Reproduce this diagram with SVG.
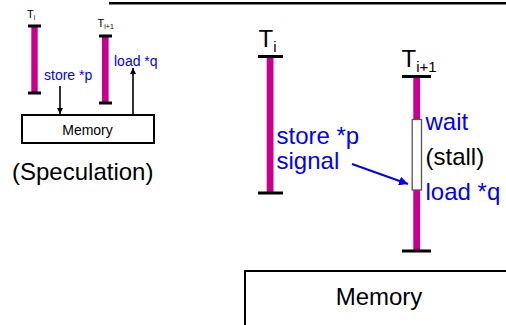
<svg xmlns="http://www.w3.org/2000/svg" width="506" height="325" viewBox="0 0 506 325">
<style>
text{font-family:"Liberation Sans",Arial,sans-serif;}
.bar{fill:#c8008f;}
.cap{fill:#000;}
.blue{fill:#0000ff;}
.blk{fill:#000;}
.box{fill:#fff;stroke:#000;stroke-width:2;}
.conn{stroke:#000;stroke-width:1.6;fill:none;}
</style>
<defs>
<marker id="ah" viewBox="0 0 10 10" refX="10" refY="5" markerWidth="4" markerHeight="4" orient="auto"><path d="M0,0 L10,5 L0,10 z" fill="#000"/></marker>
<marker id="ahb" viewBox="0 0 10 10" refX="10" refY="5" markerWidth="4.5" markerHeight="4.5" orient="auto"><path d="M0,0 L10,5 L0,10 z" fill="#0000ff"/></marker>
</defs>
<rect x="109" y="2" width="397" height="2.5" fill="#000"/>

<g id="small-ti">
<text x="27" y="18" font-size="11" class="blk">T<tspan font-size="7" dy="2">i</tspan></text>
<rect class="bar" x="31.3" y="26" width="6.4" height="67"/>
<rect class="cap" x="28" y="24.5" width="13" height="3"/>
<rect class="cap" x="28" y="91.5" width="13" height="3"/>
</g>
<g id="small-ti1">
<text x="97.5" y="26.5" font-size="11" class="blk">T<tspan font-size="7" dy="2.5">i+1</tspan></text>
<rect class="bar" x="102" y="36" width="6.6" height="67"/>
<rect class="cap" x="99" y="34.5" width="13" height="3"/>
<rect class="cap" x="99" y="101.5" width="13" height="3"/>
</g>
<g id="small-labels">
<text x="44" y="80" font-size="14" class="blue">store *p</text>
<text x="114" y="66" font-size="14" class="blue">load *q</text>
</g>
<g id="small-memory">
<rect class="box" x="22" y="115" width="132" height="28"/>
<text x="87.5" y="135" font-size="14" text-anchor="middle" class="blk">Memory</text>
</g>
<text id="speculation" x="12" y="180" font-size="24" class="blk">(Speculation)</text>

<g id="big-ti">
<text x="258.5" y="47" font-size="24" class="blk">T<tspan font-size="15" dy="4.5">i</tspan></text>
<rect class="bar" x="266.7" y="56" width="6.8" height="137"/>
<rect class="cap" x="258" y="55" width="25" height="3"/>
<rect class="cap" x="258" y="191.5" width="25" height="3"/>
</g>
<g id="big-ti1">
<text x="401.5" y="66.5" font-size="24" class="blk">T<tspan font-size="15" dy="5">i+1</tspan></text>
<rect class="bar" x="413.3" y="76" width="6.8" height="175"/>
<rect class="cap" x="402" y="75" width="29" height="3"/>
<rect class="cap" x="402" y="249.5" width="29" height="3"/>
<rect x="412.2" y="119.5" width="9.3" height="70.5" fill="#fff" stroke="#555" stroke-width="1.3"/>
</g>
<g id="big-labels">
<text x="276.5" y="143.5" font-size="24" class="blue">store *p</text>
<text x="276.5" y="168.5" font-size="24" class="blue">signal</text>
<text x="425.5" y="130" font-size="24" class="blue">wait</text>
<text x="425.5" y="165" font-size="24" class="blk">(stall)</text>
<text x="425.5" y="200" font-size="24" class="blue">load *q</text>
</g>
<g id="big-memory">
<rect class="box" x="245" y="271" width="270" height="70"/>
<text x="379" y="305" font-size="24" text-anchor="middle" class="blk">Memory</text>
</g>

<g id="connectors">
<line class="conn" x1="60" y1="86" x2="60" y2="114" marker-end="url(#ah)"/>
<line class="conn" x1="133" y1="115" x2="133" y2="68" marker-end="url(#ah)"/>
<line x1="352" y1="164" x2="408" y2="184" stroke="#0000ff" stroke-width="2" marker-end="url(#ahb)"/>
</g>
</svg>
